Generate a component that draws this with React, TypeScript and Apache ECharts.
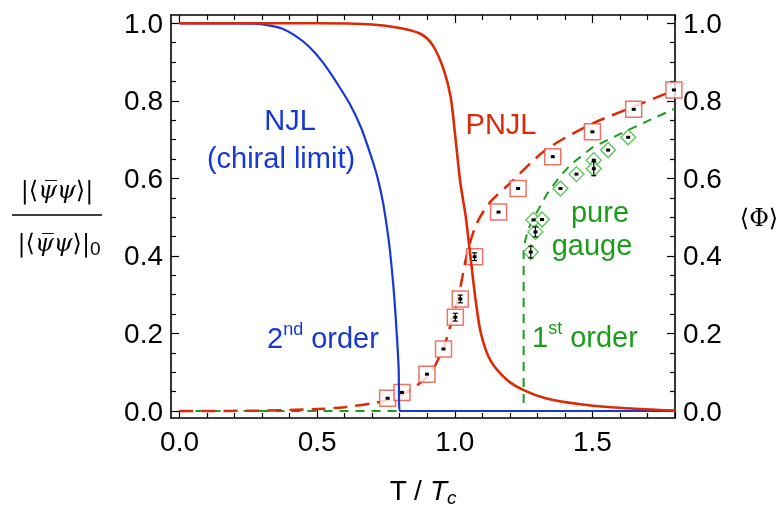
import { useEffect, useRef } from 'react';
import * as echarts from 'echarts';

// axis ranges (frame slightly wider than the data range)
const X_MIN = -0.031;
const X_MAX = 1.8;
const Y_MIN = -0.018;
const Y_MAX = 1.0214;

// tick values
const X_MAJOR = [0, 0.5, 1.0, 1.5];
const X_MINOR = [0.1, 0.2, 0.3, 0.4, 0.6, 0.7, 0.8, 0.9, 1.1, 1.2, 1.3, 1.4, 1.6, 1.7, 1.8];
const Y_MAJOR = [0, 0.2, 0.4, 0.6, 0.8, 1.0];
const Y_MINOR = [0.05, 0.1, 0.15, 0.25, 0.3, 0.35, 0.45, 0.5, 0.55, 0.65, 0.7, 0.75, 0.85, 0.9, 0.95];

// NJL (chiral limit) condensate
const NJL_T = [0, 0.2, 0.27, 0.32, 0.37, 0.42, 0.47, 0.52, 0.57, 0.62, 0.66, 0.7, 0.72, 0.74, 0.76, 0.77, 0.78, 0.79, 0.796, 0.8, 1.8];
const NJL_V = [1, 1, 0.999, 0.995, 0.987, 0.968, 0.94, 0.9, 0.848, 0.79, 0.73, 0.648, 0.6, 0.535, 0.44, 0.375, 0.295, 0.19, 0.11, 0, 0];

// PNJL condensate
const PNJL_T = [0, 0.5, 0.7, 0.8, 0.875, 0.92, 0.96, 0.985, 1.0, 1.02, 1.04, 1.055, 1.075, 1.095, 1.13, 1.19, 1.25, 1.33, 1.45, 1.58, 1.8];
const PNJL_V = [1, 1, 0.997, 0.988, 0.973, 0.943, 0.88, 0.81, 0.72, 0.59, 0.5, 0.41, 0.29, 0.2, 0.13, 0.08, 0.054, 0.033, 0.018, 0.009, 0.001];

// PNJL Polyakov loop
const PHI_T = [0, 0.3, 0.5, 0.6, 0.7, 0.75, 0.83, 0.91, 0.96, 0.99, 1.015, 1.045, 1.08, 1.13, 1.2, 1.33, 1.49, 1.65, 1.8];
const PHI_V = [0, 0.001, 0.005, 0.01, 0.02, 0.027, 0.05, 0.097, 0.166, 0.235, 0.3, 0.407, 0.484, 0.54, 0.587, 0.673, 0.738, 0.785, 0.828];

// pure gauge Polyakov loop
const PG_T = [0, 1.25, 1.25, 1.256, 1.265, 1.28, 1.3, 1.335, 1.38, 1.42, 1.5, 1.63, 1.8];
const PG_V = [0, 0, 0.41, 0.44, 0.465, 0.49, 0.515, 0.56, 0.603, 0.635, 0.68, 0.725, 0.78];

// lattice QCD (squares)
const LQ_T = [0.756, 0.808, 0.899, 0.959, 1.002, 1.02, 1.072, 1.159, 1.23, 1.356, 1.5, 1.65, 1.796];
const LQ_V = [0.033, 0.048, 0.095, 0.16, 0.242, 0.289, 0.398, 0.513, 0.574, 0.656, 0.72, 0.778, 0.828];
const LQ_E = [0.003, 0.003, 0.003, 0.004, 0.01, 0.01, 0.01, 0.003, 0.003, 0.003, 0.003, 0.003, 0.003];

// lattice pure gauge (diamonds)
const PGL_T = [1.276, 1.293, 1.286, 1.317, 1.384, 1.442, 1.505, 1.505, 1.557, 1.63];
const PGL_V = [0.41, 0.462, 0.493, 0.494, 0.574, 0.611, 0.647, 0.625, 0.673, 0.706];
const PGL_E = [0.015, 0.013, 0.004, 0.003, 0.004, 0.004, 0.004, 0.018, 0.004, 0.004];

const BLUE = '#1638d6';
const RED = '#dc2a06';
const GREEN = '#1a9e1a';
const SQ_RED = '#e8503f';
const DIA_GREEN = '#2ab52a';
const SANS = '"Liberation Sans", Arial, Helvetica, sans-serif';
const SERIF = '"DejaVu Serif", "Liberation Serif", serif';

const zip = (a: number[], b: number[]) => a.map((v, i) => [v, b[i]]);
const zip3 = (a: number[], b: number[], c: number[]) => a.map((v, i) => [v, b[i], c[i]]);

function xAxis(position: string, ticks: number[], len: number, labels: boolean, line: boolean) {
  return {
    type: 'value', position, min: X_MIN, max: X_MAX, gridIndex: 0,
    axisLine: { show: line, onZero: false, lineStyle: { color: '#000', width: 1.6 } },
    axisTick: { show: true, inside: true, length: len, customValues: ticks, lineStyle: { color: '#000', width: 1.2 } },
    axisLabel: labels
      ? { show: true, customValues: ticks, margin: 9, color: '#000', fontSize: 28, fontFamily: SANS, formatter: (v: number) => v.toFixed(1) }
      : { show: false },
    splitLine: { show: false },
  };
}
function yAxis(position: string, ticks: number[], len: number, labels: boolean, line: boolean) {
  return {
    type: 'value', position, min: Y_MIN, max: Y_MAX, gridIndex: 0,
    axisLine: { show: line, onZero: false, lineStyle: { color: '#000', width: 1.6 } },
    axisTick: { show: true, inside: true, length: len, customValues: ticks, lineStyle: { color: '#000', width: 1.2 } },
    axisLabel: labels
      ? { show: true, customValues: ticks, margin: 8, color: '#000', fontSize: 28, fontFamily: SANS, formatter: (v: number) => v.toFixed(1) }
      : { show: false },
    splitLine: { show: false },
  };
}

const markRender = (params: any, api: any) => {
  const x = api.value(0), y = api.value(1), e = api.value(2);
  const p = api.coord([x, y]);
  const t = api.coord([x, y + e]);
  const b = api.coord([x, y - e]);
  const children: any[] = [
    { type: 'rect', shape: { x: p[0] - 2, y: p[1] - 1.5, width: 4, height: 3 }, style: { fill: '#000' } },
  ];
  if (b[1] - t[1] > 4) {
    children.push(
      { type: 'line', shape: { x1: p[0], y1: t[1], x2: p[0], y2: b[1] }, style: { stroke: '#000', lineWidth: 1.2 } },
      { type: 'line', shape: { x1: p[0] - 2.5, y1: t[1], x2: p[0] + 2.5, y2: t[1] }, style: { stroke: '#000', lineWidth: 1.2 } },
      { type: 'line', shape: { x1: p[0] - 2.5, y1: b[1], x2: p[0] + 2.5, y2: b[1] }, style: { stroke: '#000', lineWidth: 1.2 } },
    );
  }
  return { type: 'group', children };
};

function txt(x: number, y: number, text: string, fill: string, align: string, rich?: any, size = 29, family = SANS) {
  return {
    type: 'text', x, y, z: 100,
    style: {
      text, fill, fontSize: size, fontFamily: family,
      textAlign: align, textVerticalAlign: 'middle', align, verticalAlign: 'middle',
      rich,
    },
  };
}

export default function App() {
  const ref = useRef<HTMLDivElement>(null);
  useEffect(() => {
    if (!ref.current) return;
    const chart = echarts.init(ref.current, null, { renderer: 'svg' });
    const supRich = (color: string) => ({
      a: { fontSize: 29, fontFamily: SANS, fill: color, lineHeight: 36, verticalAlign: 'middle' },
      s: { fontSize: 18, fontFamily: SANS, fill: color, lineHeight: 18, verticalAlign: 'top' },
    });
    const psiRich = {
      a: { fontSize: 24, fontFamily: SERIF, fill: '#000', lineHeight: 30 },
      b: { fontSize: 24, fontFamily: SERIF, fontStyle: 'italic', fill: '#000', lineHeight: 30 },
      s: { fontSize: 19, fontFamily: SANS, fill: '#000', lineHeight: 19, verticalAlign: 'bottom' },
    };
    chart.setOption({
      animation: false,
      grid: { left: 171, right: 107, top: 15, bottom: 89, containLabel: false },
      xAxis: [
        xAxis('bottom', X_MAJOR, 8, true, true),
        xAxis('bottom', X_MINOR, 5, false, false),
        xAxis('top', X_MAJOR, 8, false, true),
        xAxis('top', X_MINOR, 5, false, false),
      ],
      yAxis: [
        yAxis('left', Y_MAJOR, 8, true, true),
        yAxis('left', Y_MINOR, 5, false, false),
        yAxis('right', Y_MAJOR, 8, true, true),
        yAxis('right', Y_MINOR, 5, false, false),
      ],
      series: [
        {
          name: 'pure gauge', type: 'line', data: zip(PG_T, PG_V), showSymbol: false, z: 1,
          lineStyle: { color: GREEN, width: 2, type: [9, 7] }, emphasis: { disabled: true },
        },
        {
          name: 'PNJL Phi', type: 'line', data: zip(PHI_T, PHI_V), showSymbol: false, z: 2, smooth: 0.3,
          lineStyle: { color: RED, width: 2.5, type: [14, 8] }, emphasis: { disabled: true },
        },
        {
          name: 'lattice', type: 'scatter', data: zip(LQ_T, LQ_V), symbol: 'rect', symbolSize: 16, z: 3, clip: false,
          itemStyle: { color: '#fff', borderColor: SQ_RED, borderWidth: 1.5 }, emphasis: { disabled: true },
        },
        {
          name: 'lattice pg', type: 'scatter', data: zip(PGL_T, PGL_V), symbol: 'diamond', symbolSize: 15, z: 3, clip: false,
          itemStyle: { color: '#fff', borderColor: DIA_GREEN, borderWidth: 1.3 }, emphasis: { disabled: true },
        },
        {
          type: 'custom', data: zip3(LQ_T, LQ_V, LQ_E), renderItem: markRender, z: 4, clip: false,
          encode: { x: 0, y: 1 },
        },
        {
          type: 'custom', data: zip3(PGL_T, PGL_V, PGL_E), renderItem: markRender, z: 4, clip: false,
          encode: { x: 0, y: 1 },
        },
        {
          name: 'NJL', type: 'line', data: zip(NJL_T, NJL_V), showSymbol: false, z: 5, smooth: 0.3,
          lineStyle: { color: BLUE, width: 2.2 }, emphasis: { disabled: true },
        },
        {
          name: 'PNJL', type: 'line', data: zip(PNJL_T, PNJL_V), showSymbol: false, z: 6, smooth: 0.3,
          lineStyle: { color: RED, width: 2.6 }, emphasis: { disabled: true },
        },
      ],
      graphic: [
        txt(290, 120, 'NJL', BLUE, 'center'),
        txt(281, 158, '(chiral limit)', BLUE, 'center'),
        txt(501, 124, 'PNJL', RED, 'center'),
        txt(600, 212, 'pure', GREEN, 'center'),
        txt(592, 245, 'gauge', GREEN, 'center'),
        txt(267, 338, '{a|2}{s|nd}{a| order}', BLUE, 'left', supRich(BLUE)),
        txt(532, 337, '{a|1}{s|st}{a| order}', GREEN, 'left', supRich(GREEN)),
        txt(423, 490, '{r|T / }{i|T}{c|c}', '#000', 'center', {
          r: { fontSize: 28, fontFamily: SANS, fill: '#000', lineHeight: 34 },
          i: { fontSize: 28, fontFamily: SANS, fontStyle: 'italic', fill: '#000', lineHeight: 34 },
          c: { fontSize: 19, fontFamily: SANS, fontStyle: 'italic', fill: '#000', lineHeight: 19, verticalAlign: 'bottom' },
        }),
        txt(57, 190, '{a|\u007C\u27E8}{b|\u03C8\u0305\u03C8}{a|\u27E9\u007C}', '#000', 'center', psiRich, 24, SERIF),
        txt(59, 243, '{a|\u007C\u27E8}{b|\u03C8\u0305\u03C8}{a|\u27E9\u007C}{s|0}', '#000', 'center', psiRich, 24, SERIF),
        {
          type: 'line', z: 100,
          shape: { x1: 12, y1: 215, x2: 102, y2: 215 },
          style: { stroke: '#000', lineWidth: 1.4 },
        },
        txt(759, 218, '\u27E8\u03A6\u27E9', '#000', 'center', undefined, 24, SERIF),
      ],
    });
    return () => chart.dispose();
  }, []);
  return <div ref={ref} style={{ position: 'fixed', left: 0, top: 0, width: 782, height: 507 }} />;
}
